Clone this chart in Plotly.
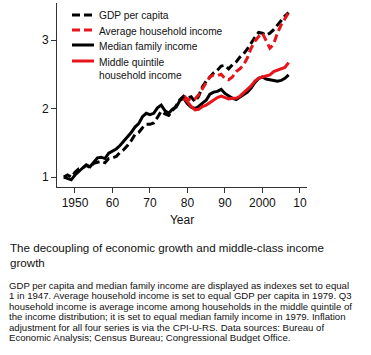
import plotly.graph_objects as go

years_all = list(range(1947, 2008))
gdp_per_capita = [1.00, 1.03, 1.00, 1.07, 1.12, 1.13, 1.17, 1.14, 1.20, 1.22,
                  1.23, 1.21, 1.27, 1.28, 1.30, 1.36, 1.40, 1.46, 1.53, 1.62,
                  1.65, 1.72, 1.77, 1.77, 1.79, 1.87, 1.96, 1.92, 1.90, 1.97,
                  2.04, 2.13, 2.18, 2.15, 2.17, 2.10, 2.18, 2.32, 2.40, 2.46,
                  2.52, 2.56, 2.62, 2.63, 2.58, 2.64, 2.68, 2.75, 2.80, 2.87,
                  2.96, 3.04, 3.11, 3.10, 3.07, 3.10, 3.15, 3.22, 3.29, 3.35,
                  3.40]
median_family = [1.00, 0.98, 0.96, 1.03, 1.08, 1.12, 1.18, 1.15, 1.21, 1.28,
                 1.29, 1.27, 1.35, 1.38, 1.41, 1.46, 1.52, 1.58, 1.65, 1.73,
                 1.78, 1.88, 1.93, 1.91, 1.93, 2.01, 2.05, 1.97, 1.93, 1.99,
                 2.02, 2.12, 2.15, 2.07, 2.02, 2.00, 2.03, 2.08, 2.12, 2.21,
                 2.24, 2.25, 2.28, 2.22, 2.18, 2.15, 2.13, 2.17, 2.21, 2.24,
                 2.30, 2.38, 2.44, 2.46, 2.43, 2.42, 2.41, 2.40, 2.41, 2.44,
                 2.49]
years_cbo = list(range(1979, 2008))
avg_household = [2.18, 2.14, 2.12, 2.14, 2.20, 2.30, 2.38, 2.46, 2.49, 2.48,
                 2.50, 2.44, 2.42, 2.46, 2.54, 2.58, 2.64, 2.74, 2.88, 2.98,
                 3.05, 3.10, 2.98, 2.88, 2.94, 3.10, 3.22, 3.32, 3.40]
middle_quintile = [2.15, 2.10, 2.03, 1.98, 1.99, 2.03, 2.05, 2.09, 2.12, 2.16,
                   2.18, 2.16, 2.14, 2.15, 2.15, 2.18, 2.23, 2.27, 2.33, 2.40,
                   2.44, 2.46, 2.47, 2.49, 2.54, 2.56, 2.58, 2.60, 2.67]

x_tickvals = [1950, 1960, 1970, 1980, 1990, 2000, 2010]
x_ticktext = ["1950", "60", "70", "80", "90", "2000", "10"]
y_tickvals = [1, 2, 3]

title_lines = ["The decoupling of economic growth and middle-class income",
               "growth"]
caption_lines = [
    "GDP per capita and median family income are displayed as indexes set to equal",
    "1 in 1947. Average household income is set to equal GDP per capita in 1979. Q3",
    "household income is average income among households in the middle quintile of",
    "the income distribution; it is set to equal median family income in 1979. Inflation",
    "adjustment for all four series is via the CPI-U-RS. Data sources: Bureau of",
    "Economic Analysis; Census Bureau; Congressional Budget Office.",
]

RED = "#e8141c"
BLACK = "#000000"
FONT = "Liberation Sans, Arial, Helvetica, sans-serif"
DASH = "8px,4px"

series = [
    ("GDP per capita", years_all, gdp_per_capita, BLACK, DASH),
    ("Average household income", years_cbo, avg_household, RED, DASH),
    ("Median family income", years_all, median_family, BLACK, "solid"),
    ("Middle quintile<br>household income", years_cbo, middle_quintile, RED, "solid"),
]

W, H = 371, 355
L, R, T, B = 57, 64, 3, 168
pw = W - L - R
ph = H - T - B

def px_to_paper_x(px):
    return (px - L) / pw

def py_to_paper(py):
    return (H - B - py) / ph

fig = go.Figure()
for name, xs, ys, color, dash in series:
    fig.add_trace(go.Scatter(x=xs, y=ys, mode="lines", name=name,
                             line=dict(color=color, width=3, dash=dash),
                             showlegend=False, hoverinfo="skip"))

shapes = []
annotations = []
# legend (manual, for exact spacing)
legend_rows = [15, 30, 45, 61]
for (name, xs, ys, color, dash), ry in zip(series, legend_rows):
    shapes.append(dict(type="line", xref="paper", yref="paper",
                       x0=px_to_paper_x(72), x1=px_to_paper_x(94),
                       y0=py_to_paper(ry), y1=py_to_paper(ry),
                       line=dict(color=color, width=3, dash=dash)))
    annotations.append(dict(text=name, xref="paper", yref="paper",
                            x=px_to_paper_x(97), y=py_to_paper(ry - 6.5),
                            xanchor="left", yanchor="top", align="left",
                            showarrow=False,
                            font=dict(size=10.2, color="#111", family=FONT)))

for i, t in enumerate(title_lines):
    annotations.append(dict(text=t, xref="paper", yref="paper",
                            x=px_to_paper_x(8), y=py_to_paper(247 + 15 * i),
                            xanchor="left", yanchor="middle", showarrow=False,
                            font=dict(size=11.6, color="#111", family=FONT)))
for i, t in enumerate(caption_lines):
    annotations.append(dict(text=t, xref="paper", yref="paper",
                            x=px_to_paper_x(7), y=py_to_paper(285 + 10.5 * i),
                            xanchor="left", yanchor="middle", showarrow=False,
                            font=dict(size=9.6, color="#111", family=FONT)))

fig.update_layout(
    width=W, height=H,
    margin=dict(l=L, r=R, t=T, b=B, autoexpand=False),
    paper_bgcolor="white", plot_bgcolor="white",
    font=dict(family=FONT, color="#111"),
    showlegend=False,
    hovermode=False,
    shapes=shapes,
    annotations=annotations,
    xaxis=dict(range=[1945.2, 2011.9], tickvals=x_tickvals, ticktext=x_ticktext,
               showgrid=False, zeroline=False, showline=True, linecolor="#333",
               linewidth=1, ticks="outside", ticklen=5, tickcolor="#333",
               tickfont=dict(size=12, color="#111"), automargin=False,
               title=dict(text="Year", font=dict(size=12, color="#111"), standoff=6)),
    yaxis=dict(range=[0.855, 3.54], tickvals=y_tickvals, automargin=False,
               showgrid=False, zeroline=False, showline=True, linecolor="#333",
               linewidth=1, ticks="outside", ticklen=5, tickcolor="#333",
               tickfont=dict(size=12, color="#111")),
)

fig.write_html("out.html",
               config={"displayModeBar": False, "staticPlot": True},
               post_script="document.body.style.margin='0';document.body.style.overflow='hidden';")
